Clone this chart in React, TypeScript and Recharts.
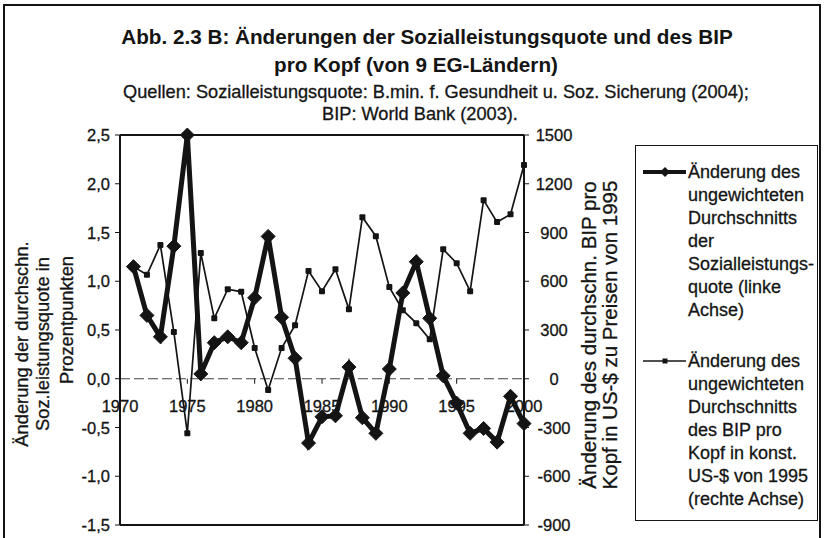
import React from 'react';
import { LineChart, Line, XAxis, YAxis, ReferenceLine, Legend } from 'recharts';

// ---------- data ----------
const years = [
  1971, 1972, 1973, 1974, 1975, 1976, 1977, 1978, 1979, 1980,
  1981, 1982, 1983, 1984, 1985, 1986, 1987, 1988, 1989, 1990,
  1991, 1992, 1993, 1994, 1995, 1996, 1997, 1998, 1999, 2000,
];
// Änderung der Sozialleistungsquote (Prozentpunkte, linke Achse)
const sozQuoteChange = [
  1.15, 0.65, 0.43, 1.36, 2.5, 0.05, 0.37, 0.43, 0.37, 0.83,
  1.46, 0.63, 0.21, -0.66, -0.39, -0.38, 0.12, -0.4, -0.56, 0.1,
  0.88, 1.2, 0.62, 0.03, -0.25, -0.56, -0.51, -0.65, -0.18, -0.46,
];
// Änderung des BIP pro Kopf (US-$ von 1995, rechte Achse)
const bipChange = [
  690, 640, 823, 287, -335, 774, 372, 551, 535, 189,
  -69, 189, 330, 663, 539, 674, 427, 994, 877, 564,
  422, 342, 243, 797, 711, 539, 1099, 964, 1012, 1315,
];
const xTicks = [1970, 1975, 1980, 1985, 1990, 1995, 2000];
const leftTicks = [-1.5, -1, -0.5, 0, 0.5, 1, 1.5, 2, 2.5];
const rightTicks = [-900, -600, -300, 0, 300, 600, 900, 1200, 1500];

const titleLines = [
  'Abb. 2.3 B: Änderungen der Sozialleistungsquote und des BIP',
  'pro Kopf (von 9 EG-Ländern)',
];
const sourceLines = [
  'Quellen: Sozialleistungsquote: B.min. f. Gesundheit u. Soz. Sicherung (2004);',
  'BIP: World Bank (2003).',
];
const leftTitleLines = ['Änderung der durchschn.', 'Soz.leistungsquote in', 'Prozentpunkten'];
const rightTitleLines = ['Änderung des durchschn. BIP pro', 'Kopf in US-$ zu Preisen von 1995'];
const legendSoz = ['Änderung des', 'ungewichteten', 'Durchschnitts', 'der', 'Sozialleistungs-', 'quote (linke', 'Achse)'];
const legendBip = ['Änderung des', 'ungewichteten', 'Durchschnitts', 'des BIP pro', 'Kopf in konst.', 'US-$ von 1995', '(rechte Achse)'];

const data = years.map((y, i) => ({ year: y, soz: sozQuoteChange[i], bip: bipChange[i] }));

// ---------- layout ----------
const W = 826;
const H = 538;
const PLOT_LEFT = 120;
const PLOT_RIGHT = 524;
const PLOT_TOP = 135;
const PLOT_BOTTOM = 525;
const AXIS_W = 40;
const X_AXIS_H = 13;
const LEFT_MIN = -1.5;
const LEFT_MAX = 2.5;
const ZERO_Y = PLOT_TOP + ((LEFT_MAX - 0) / (LEFT_MAX - LEFT_MIN)) * (PLOT_BOTTOM - PLOT_TOP);
const FONT = '"Liberation Sans", Arial, Helvetica, sans-serif';
const INK = '#141414';
const THICK = 0.3; // slight stroke to mimic scanned print

const XTick = (props: any) => {
  const { x, payload } = props;
  return (
    <g>
      <line x1={x} x2={x} y1={ZERO_Y} y2={ZERO_Y + 5} stroke={INK} strokeWidth={1} />
      <text
        x={x}
        y={ZERO_Y + 33}
        textAnchor="middle"
        fontSize={16.5}
        fontFamily={FONT}
        fill={INK}
        stroke={INK}
        strokeWidth={THICK}
      >
        {payload.value}
      </text>
    </g>
  );
};

const LeftTick = (props: any) => {
  const { x, y, payload } = props;
  return (
    <text
      x={x}
      y={y}
      dy={6}
      textAnchor="end"
      fontSize={16.5}
      fontFamily={FONT}
      fill={INK}
      stroke={INK}
      strokeWidth={THICK}
    >
      {Number(payload.value).toFixed(1).replace('.', ',')}
    </text>
  );
};

const RightTick = (props: any) => {
  const { x, y, payload } = props;
  return (
    <text
      x={x + 25}
      y={y}
      dy={6}
      textAnchor="middle"
      fontSize={16.5}
      fontFamily={FONT}
      fill={INK}
      stroke={INK}
      strokeWidth={THICK}
    >
      {payload.value}
    </text>
  );
};

const Diamond = (props: any) => {
  const { cx, cy, index } = props;
  if (cx == null || cy == null) return <g key={`d${index}`} />;
  const r = 7;
  return (
    <polygon
      key={`d${index}`}
      points={`${cx},${cy - r} ${cx + r},${cy} ${cx},${cy + r} ${cx - r},${cy}`}
      fill={INK}
      stroke={INK}
    />
  );
};

const Square = (props: any) => {
  const { cx, cy, index } = props;
  if (cx == null || cy == null) return <g key={`s${index}`} />;
  const s = 6;
  return <rect key={`s${index}`} x={cx - s / 2} y={cy - s / 2} width={s} height={s} rx={1} fill={INK} />;
};

const LeftTitle = () => {
  const xs = [28, 49, 73];
  const ys = [344, 344, 320];
  return (
    <g>
      {leftTitleLines.map((t, i) => (
        <text
          key={i}
          x={xs[i]}
          y={ys[i]}
          transform={`rotate(-90 ${xs[i]} ${ys[i]})`}
          textAnchor="middle"
          fontSize={18.3}
          fontFamily={FONT}
          fill={INK}
          stroke={INK}
          strokeWidth={THICK}
        >
          {t}
        </text>
      ))}
    </g>
  );
};

const RightTitle = () => {
  const xs = [596, 617];
  const yc = 335;
  return (
    <g>
      {rightTitleLines.map((t, i) => (
        <text
          key={i}
          x={xs[i]}
          y={yc}
          transform={`rotate(-90 ${xs[i]} ${yc})`}
          textAnchor="middle"
          fontSize={20.5}
          fontFamily={FONT}
          fill={INK}
          stroke={INK}
          strokeWidth={THICK}
        >
          {t}
        </text>
      ))}
    </g>
  );
};

const LegendBox = () => {
  const lh = 23;
  return (
    <div
      style={{
        width: 183,
        height: 376,
        border: `1.5px solid ${INK}`,
        boxSizing: 'border-box',
        background: '#fff',
        overflow: 'hidden',
      }}
    >
      <svg width={180} height={372} style={{ display: 'block' }}>
        <line x1={7} x2={50} y1={26} y2={26} stroke={INK} strokeWidth={4} />
        <polygon points="29,21 34,26 29,31 24,26" fill={INK} />
        {legendSoz.map((t, i) => (
          <text
            key={`a${i}`}
            x={52}
            y={32 + i * lh}
            fontSize={18}
            fontFamily={FONT}
            fill={INK}
            stroke={INK}
            strokeWidth={THICK}
          >
            {t}
          </text>
        ))}
        <line x1={7} x2={50} y1={215} y2={215} stroke={INK} strokeWidth={1.5} />
        <rect x={26.5} y={212.5} width={5} height={5} fill={INK} />
        {legendBip.map((t, i) => (
          <text
            key={`b${i}`}
            x={52}
            y={221 + i * lh}
            fontSize={18}
            fontFamily={FONT}
            fill={INK}
            stroke={INK}
            strokeWidth={THICK}
          >
            {t}
          </text>
        ))}
      </svg>
    </div>
  );
};

export default function App() {
  return (
    <div style={{ position: 'absolute', left: 0, top: 0, width: W, height: H, background: '#fff', fontFamily: FONT, overflow: 'hidden' }}>
      <div
        style={{
          position: 'absolute',
          left: 3,
          top: 4,
          width: 818,
          height: 560,
          border: `2px solid ${INK}`,
          boxSizing: 'border-box',
        }}
      />
      <svg width={W} height={130} style={{ position: 'absolute', left: 0, top: 0 }}>
        <text x={427} y={44} textAnchor="middle" fontSize={20.7} fontWeight="bold" fontFamily={FONT} fill={INK}>
          {titleLines[0]}
        </text>
        <text x={416} y={72} textAnchor="middle" fontSize={20.7} fontWeight="bold" fontFamily={FONT} fill={INK}>
          {titleLines[1]}
        </text>
        <text x={436} y={98} textAnchor="middle" fontSize={18.2} fontFamily={FONT} fill={INK} stroke={INK} strokeWidth={THICK}>
          {sourceLines[0]}
        </text>
        <text x={420} y={120} textAnchor="middle" fontSize={18.2} fontFamily={FONT} fill={INK} stroke={INK} strokeWidth={THICK}>
          {sourceLines[1]}
        </text>
      </svg>
      <div style={{ position: 'absolute', left: 0, top: 0 }}>
        <LineChart
          width={W}
          height={H}
          data={data}
          margin={{
            top: PLOT_TOP,
            left: PLOT_LEFT - AXIS_W,
            right: W - PLOT_RIGHT - AXIS_W,
            bottom: H - PLOT_BOTTOM - X_AXIS_H,
          }}
        >
          <XAxis
            dataKey="year"
            type="number"
            domain={[1970, 2000]}
            ticks={xTicks}
            height={X_AXIS_H}
            axisLine={{ stroke: INK, strokeWidth: 2 }}
            tickLine={false}
            tick={<XTick />}
            interval={0}
          />
          <YAxis
            yAxisId="left"
            orientation="left"
            width={AXIS_W}
            domain={[LEFT_MIN, LEFT_MAX]}
            ticks={leftTicks}
            interval={0}
            axisLine={{ stroke: INK, strokeWidth: 2 }}
            tickLine={{ stroke: INK, strokeWidth: 1 }}
            tickSize={5}
            tickMargin={5}
            tick={<LeftTick />}
            label={{ content: <LeftTitle /> }}
          />
          <YAxis
            yAxisId="right"
            orientation="right"
            width={AXIS_W}
            domain={[-900, 1500]}
            ticks={rightTicks}
            interval={0}
            axisLine={{ stroke: INK, strokeWidth: 2 }}
            tickLine={{ stroke: INK, strokeWidth: 1 }}
            tickSize={5}
            tickMargin={0}
            tick={<RightTick />}
            label={{ content: <RightTitle /> }}
          />
          <ReferenceLine yAxisId="left" y={LEFT_MAX} stroke={INK} strokeWidth={2} />
          <ReferenceLine yAxisId="left" y={0} stroke="#444" strokeWidth={1} strokeDasharray="10 4" />
          <Line
            yAxisId="right"
            dataKey="bip"
            stroke={INK}
            strokeWidth={1.7}
            dot={<Square />}
            activeDot={false}
            isAnimationActive={false}
          />
          <Line
            yAxisId="left"
            dataKey="soz"
            stroke={INK}
            strokeWidth={5}
            dot={<Diamond />}
            activeDot={false}
            isAnimationActive={false}
          />
          <Legend
            layout="vertical"
            align="center"
            verticalAlign="middle"
            content={() => <LegendBox />}
            wrapperStyle={{ left: 635, top: 145, width: 183, height: 376 }}
          />
        </LineChart>
      </div>
    </div>
  );
}
